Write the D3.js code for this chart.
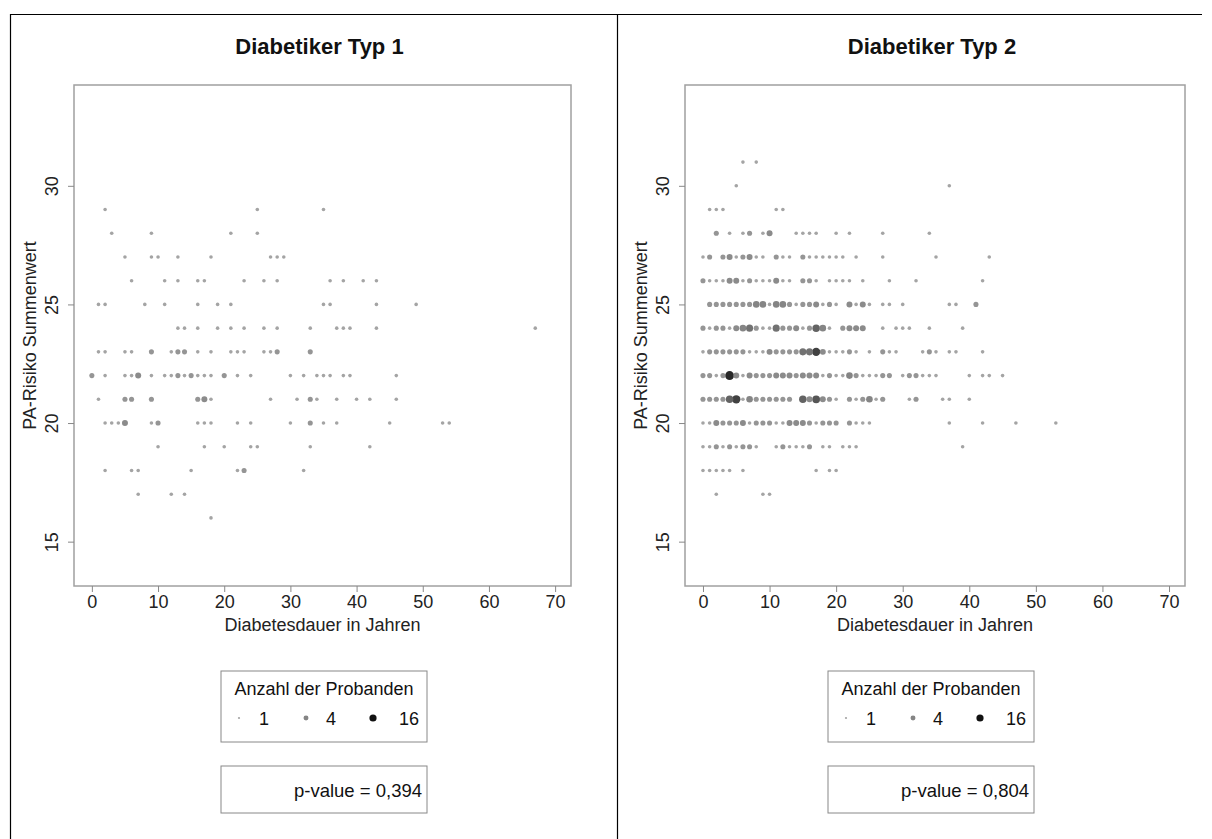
<!DOCTYPE html>
<html>
<head>
<meta charset="utf-8">
<script src="https://cdn.jsdelivr.net/npm/d3@7"></script>
<style>
  body { margin: 0; background: #fff; }
  svg { display: block; font-family: "Liberation Sans", Arial, sans-serif; }
</style>
</head>
<body>
<script>
const xTicks = [0, 10, 20, 30, 40, 50, 60, 70];
const yTicks = [15, 20, 25, 30];
const legendCounts = [1, 4, 16];
const titles = ["Diabetiker Typ 1", "Diabetiker Typ 2"];
const pValues = ["0,394", "0,804"];

// [score, durations]; [d, n] means n subjects at the same point
const typ1Rows = [
  [29, [2, 25, 35]],
  [28, [3, 9, 21, 25]],
  [27, [5, 9, 10, 13, 18, 27, 28, 29]],
  [26, [6, 11, 13, 16, 17, 23, 26, 28, 36, 38, 41, 43]],
  [25, [1, 2, 8, 11, 16, 19, 21, 35, 36, 43, 49]],
  [24, [13, 14, 16, 19, 21, 23, 26, 28, 33, 37, 38, 39, 43, 67]],
  [23, [1, 2, 5, 6, [9, 2], 12, [13, 2], [14, 2], 16, 18, 21, 22, 23, 26, 27, [28, 2], [33, 2]]],
  [22, [[0, 2], 2, 5, 6, [7, 3], 9, 11, 12, [13, 2], 14, [15, 2], 16, 17, 18, [20, 2], 22, 24, 30, 32, 34, 35, 36, 38, 39, 46]],
  [21, [1, [5, 2], [6, 2], [9, 2], [16, 2], [17, 3], 18, 27, 31, [33, 2], 34, 37, 40, 42, 46]],
  [20, [2, 3, 4, [5, 3], 9, [10, 2], 16, 17, 18, 22, 24, 30, [33, 2], 35, 37, 45, 53, 54]],
  [19, [10, 17, 20, 24, 25, 33, 42]],
  [18, [2, 6, 7, 15, 22, [23, 2], 32]],
  [17, [7, 12, 14]],
  [16, [18]]
];

const typ2Rows = [
  [31, [6, 8]],
  [30, [5, 37]],
  [29, [1, 2, 3, 11, 12]],
  [28, [[2, 2], 4, 6, [7, 2], 9, [10, 3], 14, 15, 16, 17, 20, 22, 27, 34]],
  [27, [0, [1, 2], [3, 2], [4, 3], 5, [6, 2], [7, 3], 8, 9, [11, 2], 12, 13, [15, 2], 16, 17, 18, 19, 20, 21, 23, 27, 35, 43]],
  [26, [[0, 2], 1, 2, 3, [4, 3], [5, 3], 6, [7, 2], 8, 9, 10, [11, 3], 12, 13, [15, 2], [16, 2], 17, 19, 20, 21, 22, 24, 28, 32, 42]],
  [25, [[1, 2], [2, 2], [3, 2], [4, 2], [5, 2], [6, 2], [7, 2], [8, 4], [9, 4], 10, [11, 4], [12, 4], [13, 2], 14, [15, 2], [16, 2], [17, 3], 18, [19, 2], 20, [22, 3], 23, [24, 3], 25, 27, 28, 30, 37, 38, [41, 2]]],
  [24, [[0, 2], 1, [2, 2], [3, 2], 4, [5, 3], [6, 4], [7, 5], [8, 2], 9, 10, [11, 5], [12, 2], [13, 2], [14, 3], 15, [16, 2], [17, 6], [18, 4], 19, [21, 2], [22, 3], [23, 3], [24, 3], 27, 29, 30, 31, 34, 39]],
  [23, [0, [1, 2], [2, 2], [3, 2], [4, 2], [5, 2], [6, 2], 7, 8, 9, [10, 3], [11, 2], [12, 2], [13, 2], [14, 2], [15, 5], [16, 5], [17, 9], [18, 3], 19, 20, 21, [22, 2], 23, 25, [27, 2], 28, 29, 33, [34, 2], 35, 37, 38, 42]],
  [22, [[0, 2], [1, 2], 2, [3, 2], [4, 12], [5, 3], 6, [7, 3], [8, 2], [9, 2], [10, 2], [11, 3], [12, 3], [13, 3], [14, 2], [15, 3], [16, 3], [17, 3], 18, [19, 2], 20, 21, [22, 4], [23, 2], 24, 25, 26, [27, 2], [28, 2], 30, [31, 2], [32, 2], 33, 34, 35, 40, 42, 43, 45]],
  [21, [[0, 2], [1, 2], [2, 2], [3, 2], [4, 6], [5, 9], 6, [7, 4], [8, 2], [9, 2], [10, 2], [11, 2], [12, 2], [13, 2], [15, 6], [16, 3], [17, 7], [18, 3], [19, 2], 20, [22, 2], 23, [24, 2], [25, 4], 26, [27, 2], 31, [32, 2], 36, 37, 40]],
  [20, [0, 1, [2, 3], [3, 2], [4, 2], [5, 2], [6, 3], 7, [8, 2], [9, 2], [10, 2], 11, 12, [13, 3], [14, 3], [15, 3], [16, 2], 17, [18, 2], [19, 2], [20, 2], [22, 2], 23, 24, 25, 37, 42, 47, 53]],
  [19, [0, 1, [2, 2], 3, [4, 2], 5, [6, 2], [7, 2], 8, 11, [12, 2], 13, 14, 15, [16, 2], 18, 19, 21, 22, 23, 39]],
  [18, [0, 1, 2, 3, 4, 6, 17, 19, 20]],
  [17, [2, 9, 10]]
];

function expand(rows) {
  var out = [];
  rows.forEach(function (row) {
    row[1].forEach(function (d) {
      var x = Array.isArray(d) ? d[0] : d;
      var n = Array.isArray(d) ? d[1] : 1;
      out.push({ x: x, y: row[0], n: n });
    });
  });
  // big ones first, the small ones end up on top
  return out.sort((a, b) => b.n - a.n);
}

var W = 1212, H = 839;
var svg = d3.select("body").append("svg").attr("width", W).attr("height", H);

// outer frame
svg.append("path")
  .attr("d", "M10.5," + H + "V14.5H1202")
  .attr("fill", "none").attr("stroke", "#000").attr("stroke-width", 1.2);
svg.append("line")
  .attr("x1", 617.5).attr("x2", 617.5).attr("y1", 14.5).attr("y2", H)
  .attr("stroke", "#000").attr("stroke-width", 1.2);

var rScale = d3.scaleLog().domain([1, 16]).range([1.8, 4.8]);
var cScale = d3.scaleLog().domain([1, 4, 16]).range(["#a4a4a4", "#858585", "#111"]).clamp(true);

var panels = [
  { title: titles[0], p: pValues[0], rows: typ1Rows, left: 74, right: 571, box: 221 },
  { title: titles[1], p: pValues[1], rows: typ2Rows, left: 685, right: 1185, box: 828 }
];

var plotTop = 85, plotBottom = 586;

panels.forEach(function (pn) {
  var g = svg.append("g");
  var x = d3.scaleLinear().domain([-2.7, 72.4]).range([pn.left, pn.right]);
  var y = d3.scaleLinear().domain([13.13, 34.25]).range([plotBottom, plotTop]);
  var cx = (pn.left + pn.right) / 2;

  g.append("text")
    .attr("x", cx - 3).attr("y", 54)
    .attr("text-anchor", "middle")
    .attr("font-size", 22).attr("font-weight", "bold").attr("fill", "#111")
    .text(pn.title);

  // plot region
  g.append("rect")
    .attr("x", pn.left).attr("y", plotTop)
    .attr("width", pn.right - pn.left).attr("height", plotBottom - plotTop)
    .attr("fill", "#fff").attr("stroke", "#a0a0a0").attr("stroke-width", 1.5);

  var xAxis = d3.axisBottom(x).tickValues(xTicks).tickSize(6).tickPadding(3);
  var gx = g.append("g").attr("transform", "translate(0," + plotBottom + ")").call(xAxis);
  gx.select(".domain").remove();
  gx.selectAll("line").attr("stroke", "#888");
  gx.selectAll("text").attr("font-size", 18).attr("fill", "#222").attr("font-family", null);

  var yAxis = d3.axisLeft(y).tickValues(yTicks).tickSize(6);
  var gy = g.append("g").attr("transform", "translate(" + pn.left + ",0)").call(yAxis);
  gy.select(".domain").remove();
  gy.selectAll("line").attr("stroke", "#888");
  gy.selectAll("text")
    .attr("font-size", 18).attr("fill", "#222").attr("font-family", null)
    .attr("x", 0).attr("dy", 0)
    .attr("text-anchor", "middle")
    .attr("transform", "translate(-16,0) rotate(-90)");

  g.append("text")
    .attr("transform", "translate(" + (pn.left - 38) + "," + ((plotTop + plotBottom) / 2) + ") rotate(-90)")
    .attr("text-anchor", "middle").attr("font-size", 18).attr("fill", "#222")
    .text("PA-Risiko Summenwert");

  g.append("text")
    .attr("x", cx).attr("y", 631)
    .attr("text-anchor", "middle").attr("font-size", 18).attr("fill", "#222")
    .text("Diabetesdauer in Jahren");

  g.append("g").selectAll("circle")
    .data(expand(pn.rows))
    .enter()
    .append("circle")
    .attr("cx", (d) => x(d.x))
    .attr("cy", (d) => y(d.y))
    .attr("r", (d) => rScale(d.n))
    .attr("fill", (d) => cScale(d.n));

  // legend
  var lg = g.append("g").attr("transform", "translate(" + pn.box + ",671)");
  lg.append("rect").attr("width", 206).attr("height", 71)
    .attr("fill", "#fff").attr("stroke", "#888");
  lg.append("text").attr("x", 103).attr("y", 24)
    .attr("text-anchor", "middle").attr("font-size", 18).attr("fill", "#111")
    .text("Anzahl der Probanden");
  var lx = d3.scalePoint().domain(legendCounts).range([18, 152]);
  var item = lg.selectAll("g.item").data(legendCounts).enter().append("g")
    .attr("class", "item")
    .attr("transform", (d) => "translate(" + lx(d) + ",47)");
  item.append("circle").attr("r", (d) => d == 1 ? 1.1 : rScale(d) * 0.75).attr("fill", (d) => cScale(d));
  item.append("text").attr("x", (d) => d == 16 ? 26 : 20).attr("y", 7)
    .attr("font-size", 18).attr("fill", "#111").text((d) => d);

  var pb = g.append("g").attr("transform", "translate(" + pn.box + ",766)");
  pb.append("rect").attr("width", 206).attr("height", 47)
    .attr("fill", "#fff").attr("stroke", "#888");
  pb.append("text").attr("x", 201).attr("y", 31)
    .attr("text-anchor", "end").attr("font-size", 18.5).attr("fill", "#111")
    .text("p-value = " + pn.p);
});
</script>
</body>
</html>
